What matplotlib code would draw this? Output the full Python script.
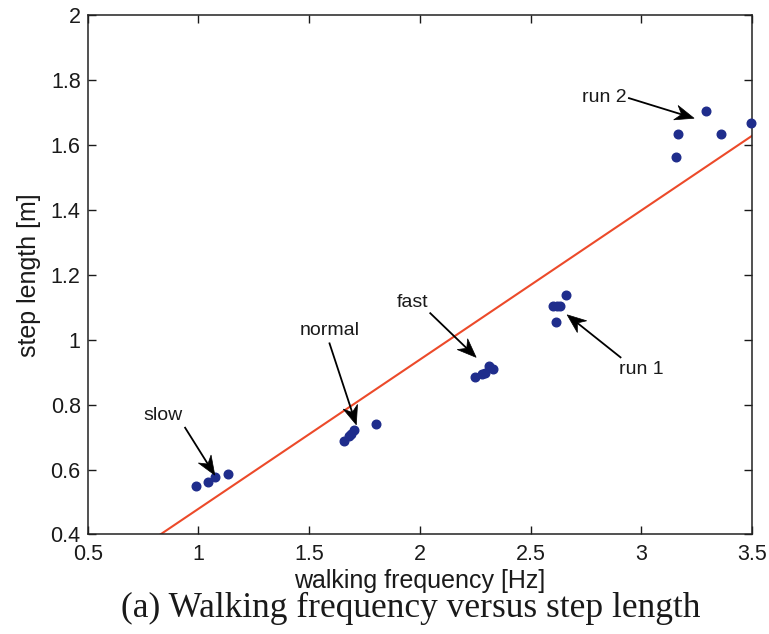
import matplotlib
matplotlib.use("Agg")
import matplotlib.pyplot as plt
from matplotlib.patches import Polygon
import numpy as np

# Measured gait samples: walking frequency [Hz] and step length [m]
slow_freq = [0.99, 1.044, 1.075, 1.134]
slow_len = [0.548, 0.561, 0.578, 0.585]

normal_freq = [1.659, 1.678, 1.690, 1.701, 1.803]
normal_len = [0.687, 0.702, 0.710, 0.722, 0.742]

fast_freq = [2.251, 2.281, 2.296, 2.311, 2.329]
fast_len = [0.886, 0.896, 0.899, 0.920, 0.910]

run1_freq = [2.602, 2.617, 2.632, 2.613, 2.658]
run1_len = [1.104, 1.104, 1.104, 1.054, 1.138]

run2_freq = [3.158, 3.166, 3.291, 3.359, 3.497]
run2_len = [1.562, 1.633, 1.706, 1.633, 1.668]

# Linear fit: step length = slope * frequency + intercept
fit_slope = 0.46
fit_intercept = 0.019
fit_range = [0.827, 3.5]

x_ticks = [0.5, 1, 1.5, 2, 2.5, 3, 3.5]
y_ticks = [0.4, 0.6, 0.8, 1.0, 1.2, 1.4, 1.6, 1.8, 2.0]
y_tick_labels = ["0.4", "0.6", "0.8", "1", "1.2", "1.4", "1.6", "1.8", "2"]

# Annotation labels: (text, text position, arrow tail, arrow tip)
labels = [
    ("slow", (0.842, 0.768), (0.940, 0.729), (1.074, 0.583)),
    ("normal", (1.592, 1.028), (1.592, 0.989), (1.713, 0.738)),
    ("fast", (1.965, 1.116), (2.047, 1.082), (2.254, 0.946)),
    ("run 1", (3.001, 0.910), (2.906, 0.946), (2.665, 1.077)),
    ("run 2", (2.831, 1.748), (2.944, 1.745), (3.238, 1.683)),
]

plt.rcParams["font.family"] = ["Liberation Sans", "DejaVu Sans"]

fig = plt.figure(figsize=(7.69, 6.34), dpi=100)
ax = fig.add_axes([0.114, 0.157, 0.864, 0.8187])

ax.set_xlim(0.5, 3.5)
ax.set_ylim(0.4, 2.0)

dot_color = "#1f2d8c"
all_freq = slow_freq + normal_freq + fast_freq + run1_freq + run2_freq
all_len = slow_len + normal_len + fast_len + run1_len + run2_len
ax.plot(all_freq, all_len, "o", color=dot_color, ms=6.2, mec=dot_color,
        clip_on=False, zorder=3)

fx = np.array(fit_range)
ax.plot(fx, fit_slope * fx + fit_intercept, color="#ec4a2a", lw=1.5, zorder=2)


def notched_arrow(ax, tail, tip, head_len=19, head_w=15, notch=6):
    """Draw a thin shaft with a filled, back-notched arrow head (in pixels)."""
    to_px = ax.transData.transform
    t0 = np.array(to_px(tail))
    t1 = np.array(to_px(tip))
    d = t1 - t0
    L = np.hypot(*d)
    u = d / L
    n = np.array([-u[1], u[0]])
    base = t1 - u * head_len
    notch_pt = t1 - u * (head_len - notch)
    inv = ax.transData.inverted().transform
    ax.plot(*zip(inv(t0), inv(notch_pt)), color="black", lw=1.3, zorder=4)
    pts = [t1, base + n * head_w / 2, notch_pt, base - n * head_w / 2]
    ax.add_patch(Polygon(inv(np.array(pts)), closed=True, facecolor="black",
                         edgecolor="black", lw=0.5, zorder=4))


fig.canvas.draw()
for text, tpos, tail, tip in labels:
    ax.text(tpos[0], tpos[1], text, fontsize=14, ha="center", va="center",
            color="#1a1a1a")
    notched_arrow(ax, tail, tip)

ax.set_xticks(x_ticks)
ax.set_xticklabels([f"{v:g}" for v in x_ticks])
ax.set_yticks(y_ticks)
ax.set_yticklabels(y_tick_labels)
ax.tick_params(direction="in", length=6, width=1, top=True, right=True,
               labelsize=15.5, colors="#1a1a1a")
ax.tick_params(axis="x", pad=7)
ax.tick_params(axis="y", pad=5)
for sp in ax.spines.values():
    sp.set_linewidth(1.1)
    sp.set_color("#222222")

ax.set_xlabel("walking frequency [Hz]", fontsize=18, labelpad=3, color="#1a1a1a")
ax.set_ylabel("step length [m]", fontsize=18, labelpad=7, color="#1a1a1a")

fig.text(0.534, 0.040, "(a) Walking frequency versus step length",
         ha="center", va="center", fontsize=25.5,
         family=["Liberation Serif", "DejaVu Serif"], color="#1a1a1a")

fig.savefig("out.png", dpi=100)
